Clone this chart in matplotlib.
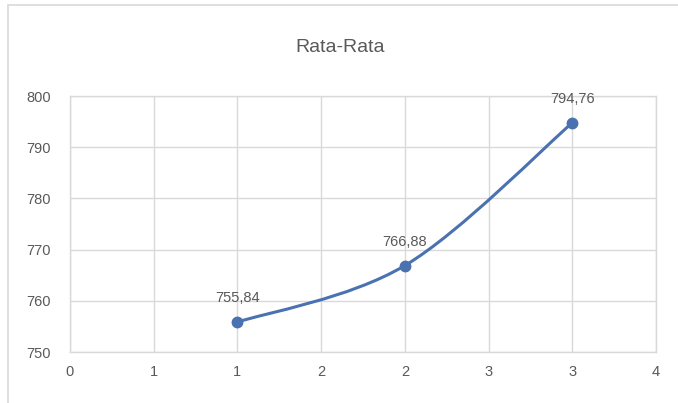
import numpy as np
import matplotlib
matplotlib.use("Agg")
import matplotlib.pyplot as plt
from matplotlib.path import Path
from matplotlib.patches import PathPatch, Rectangle

# series: x position and average value
x_vals = [1, 2, 3]
y_vals = [755.84, 766.88, 794.76]
labels = ["755,84", "766,88", "794,76"]
title = "Rata-Rata"

# axis ticks (0.5 step, shown rounded like the source sheet)
x_ticks = [0, 0.5, 1, 1.5, 2, 2.5, 3, 3.5]
x_ticklabels = ["0", "1", "1", "2", "2", "3", "3", "4"]
y_ticks = [750, 760, 770, 780, 790, 800]

LINE = "#4a72b0"
TEXT = "#595959"
GRID = "#d9d9d9"

plt.rcParams["font.family"] = ["Liberation Sans", "DejaVu Sans"]

fig = plt.figure(figsize=(6.78, 4.03), dpi=100)
ax = fig.add_axes([70 / 678, 1 - 352 / 403, 586 / 678, 256 / 403])

# chart-area frame
fig.patches.append(Rectangle((8 / 678, -0.1), 1.2, 1 - 5 / 403 + 0.1,
                             transform=fig.transFigure, fill=False,
                             edgecolor=GRID, lw=1.2))


def smooth_path(xs, ys):
    """Cubic Bezier through the points, Catmull-Rom style control points."""
    pts = np.column_stack([xs, ys]).astype(float)
    ext = np.vstack([pts[0], pts, pts[-1]])
    verts = [pts[0]]
    codes = [Path.MOVETO]
    for i in range(len(pts) - 1):
        p0, p1, p2, p3 = ext[i], ext[i + 1], ext[i + 2], ext[i + 3]
        verts += [p1 + (p2 - p0) / 6, p2 - (p3 - p1) / 6, p2]
        codes += [Path.CURVE4] * 3
    return Path(verts, codes)


ax.add_patch(PathPatch(smooth_path(x_vals, y_vals), fill=False,
                       edgecolor=LINE, lw=2.2, capstyle="round", zorder=3))
ax.plot(x_vals, y_vals, "o", color=LINE, ms=7.5, zorder=4)

for x, y, s in zip(x_vals, y_vals, labels):
    ax.annotate(s, (x, y), xytext=(0, 12), textcoords="offset points",
                ha="center", va="bottom", fontsize=10.5, color=TEXT)

ax.set_xlim(0, 3.5)
ax.set_ylim(750, 800)
ax.set_xticks(x_ticks)
ax.set_xticklabels(x_ticklabels)
ax.set_yticks(y_ticks)
ax.grid(True, color=GRID, lw=1)
ax.set_axisbelow(True)
for sp in ax.spines.values():
    sp.set_color(GRID)
    sp.set_linewidth(1)
ax.tick_params(length=0, labelsize=10.5, labelcolor=TEXT)
ax.tick_params(axis="y", pad=14)
ax.tick_params(axis="x", pad=9)

fig.text(340 / 678, 1 - 47 / 403, title, ha="center", va="center",
         fontsize=14, color=TEXT)

fig.savefig("out.png", dpi=100)
